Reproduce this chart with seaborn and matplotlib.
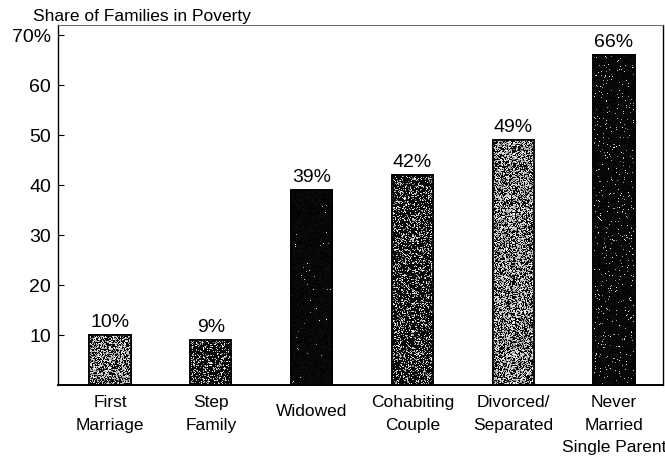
import numpy as np
import matplotlib
matplotlib.use("Agg")
import matplotlib.pyplot as plt
from matplotlib.patches import Rectangle
from matplotlib.transforms import ScaledTranslation
import seaborn as sns

# Family types and the share of each living in poverty (%)
categories = [
    "First\nMarriage",
    "Step\nFamily",
    "Widowed",
    "Cohabiting\nCouple",
    "Divorced/\nSeparated",
    "Never\nMarried\nSingle Parent",
]
poverty_share = [10, 9, 39, 42, 49, 66]
value_labels = ["10%", "9%", "39%", "42%", "49%", "66%"]
ytick_values = [10, 20, 30, 40, 50, 60, 70]
ytick_labels = ["10", "20", "30", "40", "50", "60", "70%"]

# Fraction of light specks in each bar's stippled fill
speck_density = [0.52, 0.26, 0.006, 0.26, 0.55, 0.04]

sns.set_style("white")
plt.rcParams["font.family"] = ["Liberation Sans", "DejaVu Sans"]
plt.rcParams["text.color"] = "black"
plt.rcParams["xtick.color"] = "black"
plt.rcParams["ytick.color"] = "black"

W, H = 665, 463
fig = plt.figure(figsize=(W / 100, H / 100), dpi=100)
ax = fig.add_axes([58 / W, 1 - 385 / H, (663 - 58) / W, 360 / H])

base_grays = [str(0.03 + 0.8 * d) for d in speck_density]
sns.barplot(
    x=categories, y=poverty_share, hue=categories, palette=base_grays,
    width=0.41, saturation=1, edgecolor="black", linewidth=1.2,
    legend=False, ax=ax,
)

# Stippled texture clipped to each bar
rng = np.random.default_rng(7)
px_per_x = (663 - 58) / 6.0
px_per_y = 360 / 72.0
bars = sorted(ax.patches, key=lambda p: p.get_x())
for patch, dens, lab in zip(bars, speck_density, value_labels):
    x0, y0 = patch.get_x(), patch.get_y()
    w, h = patch.get_width(), patch.get_height()
    nw = max(2, int(round(w * px_per_x)))
    nh = max(2, int(round(h * px_per_y)))
    mask = rng.random((nh, nw)) < dens
    tex = np.where(mask, rng.uniform(0.5, 1.0, (nh, nw)),
                   rng.uniform(0.0, 0.06, (nh, nw)))
    ax.imshow(tex, cmap="gray", vmin=0, vmax=1, extent=[x0, x0 + w, y0, y0 + h],
              aspect="auto", interpolation="nearest", zorder=2.5, clip_path=patch)
    ax.add_patch(Rectangle((x0, y0), w, h, fill=False, edgecolor="black",
                           linewidth=1.2, zorder=3))
    ax.annotate(lab, (x0 + w / 2, y0 + h), xytext=(0, 3), textcoords="offset points",
                ha="center", va="bottom", fontsize=14)

ax.set_xlim(-0.516, 5.486)
ax.set_ylim(0, 72)
ax.set_yticks(ytick_values)
ax.set_yticklabels(ytick_labels)
ax.set_xlabel("")
ax.set_ylabel("")

ax.tick_params(axis="y", direction="in", length=4, width=0.8, pad=5,
               labelsize=14, left=True, colors="black")
ax.tick_params(axis="x", length=0, pad=7, labelsize=12.5, colors="black")
for lbl in ax.get_xticklabels():
    lbl.set_linespacing(1.65)
    if "\n" not in lbl.get_text():
        lbl.set_transform(lbl.get_transform() +
                          ScaledTranslation(0, -6.5 / 72, fig.dpi_scale_trans))

for side in ["left", "bottom", "right"]:
    ax.spines[side].set_visible(True)
    ax.spines[side].set_color("black")
    ax.spines[side].set_linewidth(1.0)
ax.spines["bottom"].set_linewidth(1.4)
ax.spines["top"].set_visible(True)
ax.spines["top"].set_color("#666666")
ax.spines["top"].set_linewidth(0.7)

fig.text(33 / W, 1 - 21 / H, "Share of Families in Poverty", fontsize=12.5,
         ha="left", va="baseline")

fig.savefig("out.png", dpi=100)
